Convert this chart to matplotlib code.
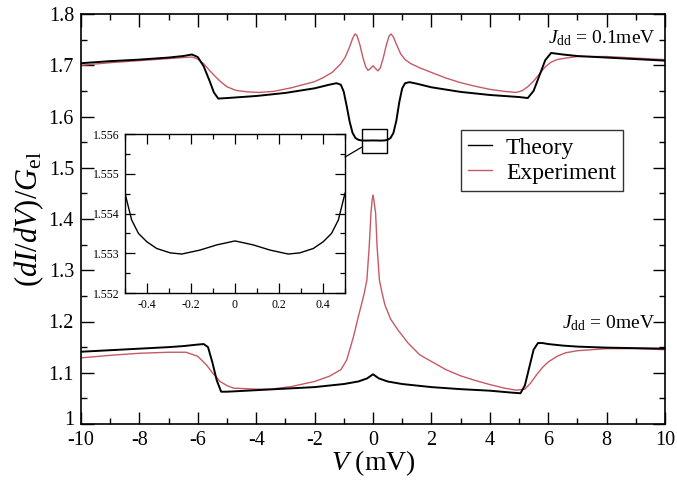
import matplotlib
matplotlib.use("Agg")
import matplotlib.pyplot as plt
import matplotlib.transforms as mtrans
from matplotlib.patches import Rectangle, ConnectionPatch
from matplotlib.ticker import MultipleLocator, FormatStrFormatter

# === DATA ===
# theory, J_dd = 0.1 meV
th1_v = [-10, -9, -8, -7, -6.5, -6.2, -6.0, -5.8, -5.6, -5.45, -5.3, -5.0, -4, -3, -2,
         -1.5, -1.25, -1.1, -1.0, -0.9, -0.8, -0.7, -0.6, -0.5, -0.4, -0.27, -0.15, 0,
         0.15, 0.27, 0.4, 0.5, 0.6, 0.7, 0.8, 0.9, 1.0, 1.1, 1.25, 1.5, 2, 3, 4, 5,
         5.3, 5.5, 5.7, 5.9, 6.1, 6.5, 7, 8, 9, 10]
th1_g = [1.704, 1.708, 1.711, 1.715, 1.718, 1.721, 1.716, 1.698, 1.670, 1.647, 1.635, 1.636,
         1.640, 1.646, 1.655, 1.662, 1.665, 1.662, 1.648, 1.620, 1.590, 1.568, 1.558, 1.5545,
         1.5533, 1.5530, 1.5531, 1.5533, 1.5531, 1.5530, 1.5533, 1.5545, 1.558, 1.568, 1.592,
         1.628, 1.655, 1.665, 1.667, 1.664, 1.657, 1.648, 1.642, 1.638, 1.636, 1.650, 1.680,
         1.710, 1.724, 1.721, 1.718, 1.715, 1.712, 1.709]

# experiment, J_dd = 0.1 meV
ex1_v = [-10, -9, -8, -7, -6.5, -6.2, -6.0, -5.8, -5.6, -5.4, -5.2, -5.0, -4.7, -4.3, -3.9,
         -3.4, -2.8, -2.4, -2.0, -1.7, -1.4, -1.1, -0.95, -0.8, -0.7, -0.62, -0.55, -0.45,
         -0.35, -0.25, -0.17, -0.08, 0, 0.08, 0.17, 0.25, 0.35, 0.45, 0.55, 0.62, 0.7, 0.8,
         0.95, 1.1, 1.3, 1.6, 2.0, 2.5, 3.0, 3.5, 4.0, 4.5, 4.9, 5.1, 5.3, 5.5, 5.7, 5.9,
         6.1, 6.3, 6.6, 7, 8, 9, 10]
ex1_g = [1.700, 1.705, 1.709, 1.713, 1.715, 1.716, 1.712, 1.703, 1.690, 1.678, 1.667, 1.658,
         1.651, 1.648, 1.647, 1.649, 1.656, 1.662, 1.668, 1.676, 1.686, 1.703, 1.716, 1.736,
         1.752, 1.761, 1.758, 1.740, 1.716, 1.697, 1.690, 1.694, 1.699, 1.694, 1.689, 1.695,
         1.714, 1.738, 1.757, 1.761, 1.755, 1.741, 1.722, 1.711, 1.703, 1.695, 1.686, 1.675,
         1.666, 1.659, 1.653, 1.649, 1.647, 1.650, 1.658, 1.669, 1.683, 1.697, 1.706, 1.711,
         1.714, 1.717, 1.717, 1.714, 1.711]

# theory, J_dd = 0 meV
th0_v = [-10, -9, -8, -7, -6.5, -6.0, -5.8, -5.65, -5.5, -5.35, -5.2, -5.0, -4, -3, -2, -1,
         -0.5, -0.2, 0, 0.2, 0.5, 1, 2, 3, 4, 4.8, 5.05, 5.2, 5.35, 5.5, 5.65, 5.8, 6.0,
         6.5, 7, 8, 9, 10]
th0_g = [1.141, 1.144, 1.147, 1.150, 1.152, 1.155, 1.156, 1.150, 1.120, 1.085, 1.063, 1.063,
         1.066, 1.069, 1.072, 1.078, 1.083, 1.089, 1.097, 1.089, 1.083, 1.078, 1.072, 1.068,
         1.065, 1.061, 1.060, 1.075, 1.110, 1.145, 1.158, 1.158, 1.156, 1.153, 1.151, 1.149,
         1.148, 1.147]

# experiment, J_dd = 0 meV
ex0_v = [-10, -9, -8, -7, -6.4, -6.0, -5.7, -5.5, -5.24, -5.0, -4.78, -4.0, -3.5, -2.8, -2.0,
         -1.5, -1.1, -0.9, -0.67, -0.5, -0.4, -0.3, -0.21, -0.13, -0.07, -0.03, 0, 0.03,
         0.09, 0.14, 0.22, 0.3, 0.41, 0.6, 0.86, 1.2, 1.6, 2.0, 2.5, 3.0, 3.5, 4.0, 4.5,
         4.9, 5.2, 5.4, 5.6, 5.8, 6.0, 6.3, 6.6, 7.0, 8, 9, 10]
ex0_g = [1.129, 1.134, 1.138, 1.140, 1.140, 1.132, 1.115, 1.100, 1.083, 1.075, 1.070, 1.068,
         1.068, 1.073, 1.083, 1.093, 1.106, 1.125, 1.170, 1.210, 1.232, 1.255, 1.281, 1.346,
         1.411, 1.437, 1.447, 1.437, 1.411, 1.346, 1.281, 1.258, 1.232, 1.205, 1.183, 1.158,
         1.135, 1.122, 1.106, 1.094, 1.085, 1.077, 1.070, 1.066, 1.068, 1.080, 1.096, 1.110,
         1.121, 1.132, 1.139, 1.143, 1.147, 1.147, 1.145]

# inset: theory J_dd = 0.1 meV near zero bias
in_v = [-0.5, -0.47, -0.439, -0.401, -0.356, -0.295, -0.242, -0.159, -0.083, 0,
        0.083, 0.159, 0.242, 0.295, 0.356, 0.401, 0.439, 0.47, 0.5]
in_g = [1.55451, 1.55384, 1.55350, 1.55329, 1.55312, 1.55301, 1.55298, 1.55308, 1.55321,
        1.55331, 1.55321, 1.55308, 1.55298, 1.55301, 1.55312, 1.55329, 1.55350, 1.55384,
        1.55451]

y_ticks = [1, 1.1, 1.2, 1.3, 1.4, 1.5, 1.6, 1.7, 1.8]
y_labels = ["1", "1.1", "1.2", "1.3", "1.4", "1.5", "1.6", "1.7", "1.8"]
in_x_ticks = [-0.4, -0.2, 0, 0.2, 0.4]
in_x_labels = ["-0.4", "-0.2", "0", "0.2", "0.4"]

RED = "#c65a64"

# === STYLE ===
plt.rcParams["font.family"] = ["Liberation Serif", "DejaVu Serif"]
plt.rcParams["mathtext.fontset"] = "custom"
plt.rcParams["mathtext.rm"] = "Liberation Serif"
plt.rcParams["mathtext.it"] = "Liberation Serif:italic"
plt.rcParams["axes.unicode_minus"] = False

fig = plt.figure(figsize=(6.77, 4.82), dpi=100)
ax = fig.add_axes([81 / 677, 58 / 482, 584 / 677, 410 / 482])

ax.plot(th1_v, th1_g, color="black", lw=1.4, label="Theory", zorder=3)
ax.plot(ex1_v, ex1_g, color=RED, lw=1.0, label="Experiment", zorder=2)
ax.plot(th0_v, th0_g, color="black", lw=1.4, zorder=3)
ax.plot(ex0_v, ex0_g, color=RED, lw=1.0, zorder=2)

ax.set_xlim(-10, 10)
ax.set_ylim(1, 1.8)
ax.xaxis.set_major_locator(MultipleLocator(2))
ax.xaxis.set_minor_locator(MultipleLocator(1))
ax.set_yticks(y_ticks)
ax.set_yticklabels(y_labels)
ax.yaxis.set_minor_locator(MultipleLocator(0.05))
ax.tick_params(which="both", direction="in", top=True, right=True, labelsize=14.5, width=1)
ax.tick_params(which="major", length=9, pad=5)
ax.tick_params(which="minor", length=4.5)
ax.tick_params(axis="x", which="major", pad=5)
for s in ax.spines.values():
    s.set_linewidth(1.2)

# lift the "1" label a little so it clears "-10"
lbl = ax.get_yticklabels()[0]
lbl.set_transform(lbl.get_transform() + mtrans.ScaledTranslation(0, 4 / 72, fig.dpi_scale_trans))

ax.set_xlabel(r"$V$ (mV)", fontsize=20, labelpad=-1)
ax.set_ylabel(r"$(dI/dV)/G_{\rm el}$", fontsize=22, labelpad=2)

ax.text(9.66, 1.743, r"$J_{\rm dd}$ = 0.1meV", ha="right", va="baseline", fontsize=14)
ax.text(9.66, 1.187, r"$J_{\rm dd}$ = 0meV", ha="right", va="baseline", fontsize=14)

leg = ax.legend(loc="upper left", bbox_to_anchor=(380 / 584, 1 - 116 / 410), fontsize=17,
                frameon=True, fancybox=False, edgecolor="black", handlelength=1.0,
                handletextpad=0.6, borderpad=0.3, labelspacing=0.15, borderaxespad=0)
leg.get_frame().set_linewidth(1.0)
for line in leg.get_lines():
    line.set_linewidth(1.0)

# zoom box on the main curve
ax.add_patch(Rectangle((-0.39, 1.529), 0.87, 0.046, fill=False, ec="black", lw=1.0, zorder=4))

# === INSET ===
ins = fig.add_axes([125 / 677, 189 / 482, 220 / 677, 159 / 482])
ins.plot(in_v, in_g, color="black", lw=1.0)
ins.set_xlim(-0.5, 0.5)
ins.set_ylim(1.552, 1.556)
ins.set_xticks(in_x_ticks)
ins.set_xticklabels(in_x_labels)
ins.xaxis.set_minor_locator(MultipleLocator(0.1))
ins.yaxis.set_major_locator(MultipleLocator(0.001))
ins.yaxis.set_minor_locator(MultipleLocator(0.0005))
ins.yaxis.set_major_formatter(FormatStrFormatter("%.3f"))
ins.tick_params(which="both", direction="in", top=True, right=True, labelsize=8.5, width=0.9)
ins.tick_params(which="major", length=7, pad=4)
ins.tick_params(which="minor", length=3.5)
for s in ins.spines.values():
    s.set_linewidth(1.0)

con = ConnectionPatch(xyA=(1.0, 0.855), coordsA=ins.transAxes,
                      xyB=(-0.39, 1.540), coordsB=ax.transData, color="black", lw=0.9)
fig.add_artist(con)

fig.savefig("out.png", dpi=100)
